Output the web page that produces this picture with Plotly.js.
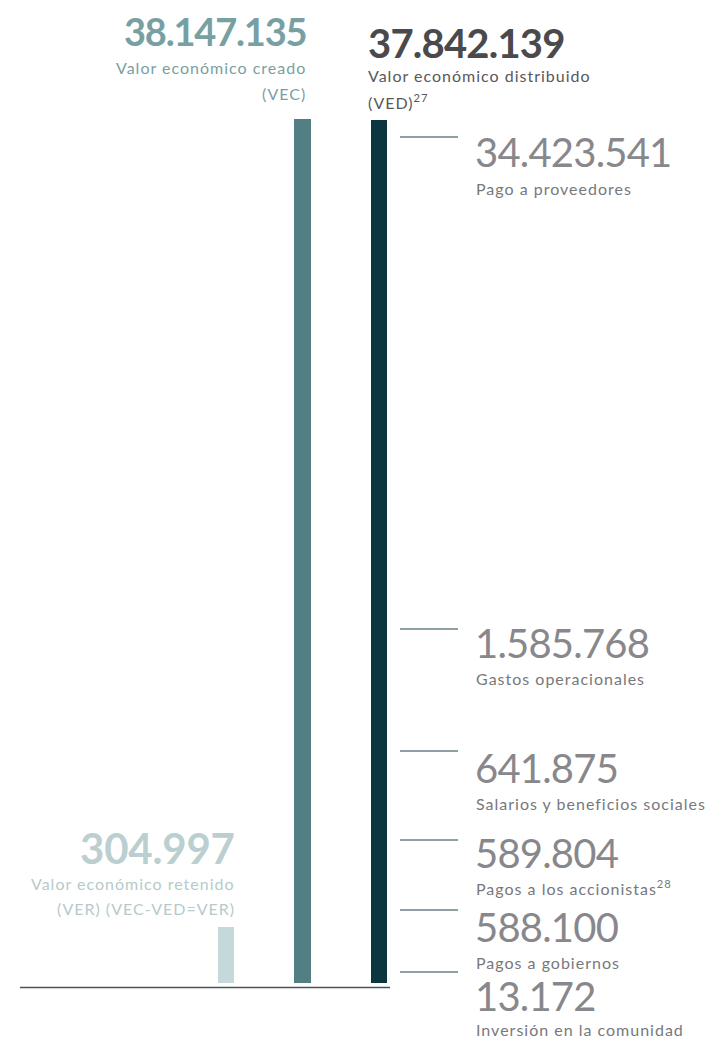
<!DOCTYPE html>
<html>
<head>
<meta charset="utf-8">
<script src="https://cdn.plot.ly/plotly-3.0.1.min.js"></script>
<style>
html,body{margin:0;padding:0;background:#fff;}
#chart{width:711px;height:1038px;}
.annotation-text[style*="font-size: 16px"]{letter-spacing:1px;}
.annotation-text[style*="font-size: 38px"]{letter-spacing:-1.2px;}
.annotation-text[style*="font-size: 40px"]{letter-spacing:-0.8px;}
.annotation-text[style*="font-size: 42px"]{letter-spacing:-0.2px;}
</style>
</head>
<body>
<div id="chart"></div>
<script>
// ---- data ----
const barKeys = ["VER", "VEC", "VED"];
const barValues = [304997, 38147135, 37842139];
const barTitles = ["Valor económico retenido", "Valor económico creado", "Valor económico distribuido"];
const barSubtitles = ["(VER) (VEC-VED=VER)", "(VEC)", "(VED)<sup>27</sup>"];

const distLabels = ["Pago a proveedores", "Gastos operacionales", "Salarios y beneficios sociales",
                    "Pagos a los accionistas<sup>28</sup>", "Pagos a gobiernos", "Inversión en la comunidad"];
const distValues = [34423541, 1585768, 641875, 589804, 588100, 13172];

// ---- layout helpers (pixel geometry) ----
const W = 711, H = 1038;
const L = 20, R = 390, T = 119, B = 983;
const xp = px => (px - L) / (R - L);
const yp = py => (B - py) / (B - T);
const fmt = v => String(v).replace(/\B(?=(\d{3})+(?!\d))/g, ".");

const FONT = "Lato, 'Open Sans', sans-serif";
const barColors = ["#c5d9db", "#527f83", "#0b3640"];

// distribution item vertical positions (leader line, number, label)
const distLineY = [137, 629, 751, 840, 910, 972];
const distNumY = [152, 643, 768, 853, 927, 996];
const distLabY = [188, 678, 803, 887, 962, 1029];

const annotations = [];
function ann(text, x, y, anchor, size, color, weight) {
  annotations.push({
    text: text, xref: "paper", yref: "paper", x: xp(x), y: yp(y),
    xanchor: anchor, yanchor: "middle", showarrow: false, align: anchor,
    font: {family: FONT, size: size, color: color, weight: weight || 400}
  });
}
// VEC
ann(fmt(barValues[1]), 308, 31, "right", 38, "#78a0a2", 700);
ann(barTitles[1], 308, 67, "right", 16, "#7a9fa1");
ann(barSubtitles[1], 308, 93, "right", 16, "#7a9fa1");
// VED
ann(fmt(barValues[2]), 366, 43, "left", 40, "#4a4a4d", 700);
ann(barTitles[2], 366, 76, "left", 16, "#58585b");
ann(barSubtitles[2], 366, 101, "left", 16, "#58585b");
// VER
ann(fmt(barValues[0]), 237, 848, "right", 42, "#bccfd0", 700);
ann(barTitles[0], 237, 883, "right", 16, "#b7cacb");
ann(barSubtitles[0], 237, 908, "right", 16, "#b7cacb");

const shapes = [];
distValues.forEach((v, i) => {
  ann(fmt(v), 473, distNumY[i], "left", 40, "#88888c", 400);
  ann(distLabels[i], 474, distLabY[i], "left", 16, "#78787c");
  shapes.push({type: "line", xref: "paper", yref: "paper",
    x0: xp(400), x1: xp(458), y0: yp(distLineY[i]), y1: yp(distLineY[i]),
    line: {color: "#1f4249", width: 1}});
});
// baseline
shapes.push({type: "line", xref: "paper", yref: "paper",
  x0: 0, x1: 1, y0: yp(987.5), y1: yp(987.5),
  line: {color: "#4b5155", width: 1.5}});

const trace = {
  type: "bar",
  x: barKeys,
  y: barValues,
  marker: {color: barColors, line: {width: 0}},
  width: 0.22,
  hoverinfo: "x+y"
};

// category positions: VER at 226px, VED at 379px
const unit = (379 - 226) / 2;
const layout = {
  width: W, height: H,
  margin: {l: L, r: W - R, t: T, b: H - B, pad: 0},
  paper_bgcolor: "#ffffff", plot_bgcolor: "#ffffff",
  showlegend: false,
  xaxis: {type: "category", range: [-(226 - L) / unit, 2 + (R - 379) / unit],
          visible: false, fixedrange: true},
  yaxis: {type: "log", range: [5.3389, Math.log10(barValues[1])],
          visible: false, fixedrange: true},
  annotations: annotations,
  shapes: shapes,
  bargap: 0
};

Plotly.newPlot("chart", [trace], layout, {displayModeBar: false, staticPlot: true});
</script>
</body>
</html>
